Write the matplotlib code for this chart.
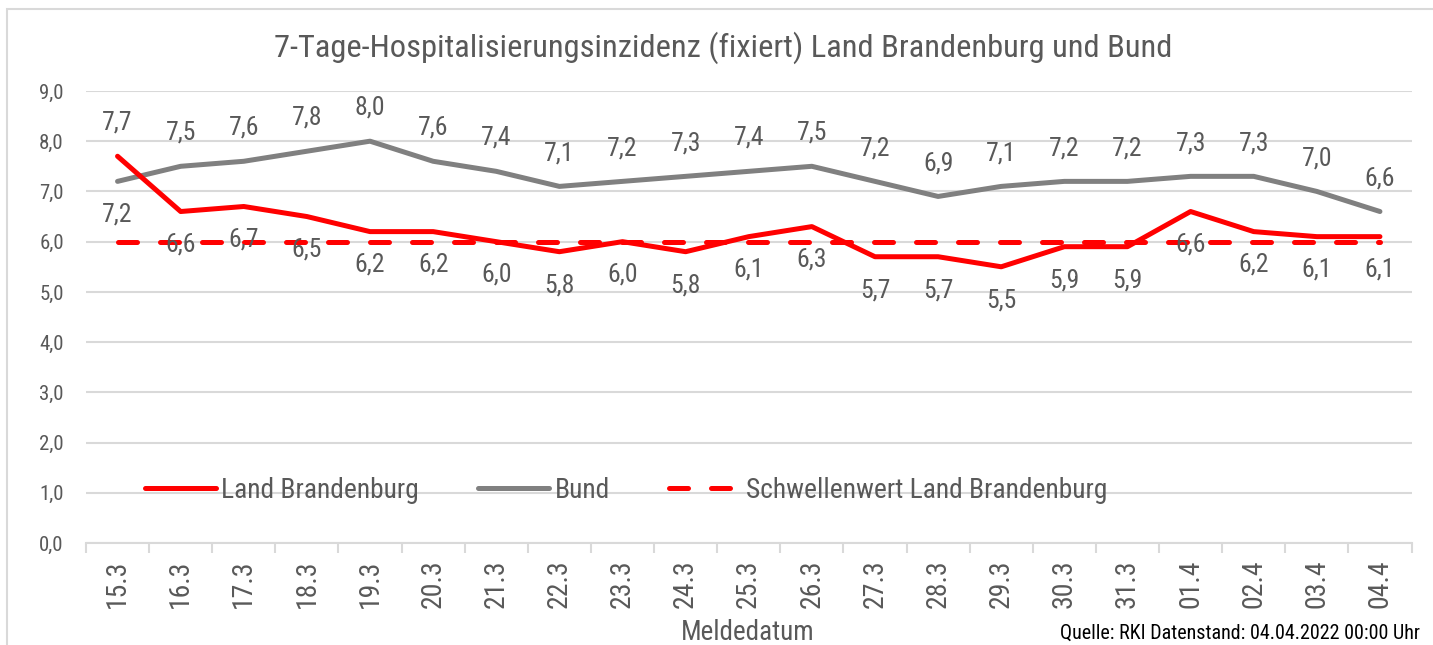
import matplotlib
matplotlib.use("Agg")
import matplotlib.pyplot as plt
from matplotlib.patches import Rectangle

plt.rcParams['font.family'] = ['Roboto Condensed', 'Liberation Sans', 'DejaVu Sans']

dates = ['15.3', '16.3', '17.3', '18.3', '19.3', '20.3', '21.3', '22.3', '23.3', '24.3',
         '25.3', '26.3', '27.3', '28.3', '29.3', '30.3', '31.3', '01.4', '02.4', '03.4', '04.4']
brandenburg = [7.7, 6.6, 6.7, 6.5, 6.2, 6.2, 6.0, 5.8, 6.0, 5.8, 6.1, 6.3, 5.7, 5.7, 5.5,
               5.9, 5.9, 6.6, 6.2, 6.1, 6.1]
bund = [7.2, 7.5, 7.6, 7.8, 8.0, 7.6, 7.4, 7.1, 7.2, 7.3, 7.4, 7.5, 7.2, 6.9, 7.1, 7.2,
        7.2, 7.3, 7.3, 7.0, 6.6]
schwelle = [6.0] * len(dates)

RED = '#FF0000'
GRAY = '#808080'
TXT = '#595959'
GRID = '#D9D9D9'

fig = plt.figure(figsize=(14.33, 6.45), dpi=100)
ax = fig.add_axes([0.060, 0.158, 0.925, 0.701])

x = range(len(dates))
ax.plot(x, brandenburg, color=RED, lw=3.6, solid_capstyle='round', label='Land Brandenburg', zorder=4)
ax.plot(x, bund, color=GRAY, lw=3.6, solid_capstyle='round', label='Bund', zorder=3)
ax.plot(x, schwelle, color=RED, lw=3.6, dashes=(3.8, 4.6), dash_capstyle='round',
        label='Schwellenwert Land Brandenburg', zorder=3)

# data labels: Bund above, Brandenburg below (swapped on the first day)
for i in x:
    sb = 1 if i == 0 else -1
    ax.annotate(f'{brandenburg[i]:.1f}'.replace('.', ','), (i, brandenburg[i]),
                xytext=(0, sb * 24), textcoords='offset points',
                ha='center', va='center', fontsize=18.5, color=TXT)
    ax.annotate(f'{bund[i]:.1f}'.replace('.', ','), (i, bund[i]),
                xytext=(0, -sb * 24), textcoords='offset points',
                ha='center', va='center', fontsize=18.5, color=TXT)

ax.set_xlim(-0.5, len(dates) - 0.5)
ax.set_ylim(0, 9)
ax.set_yticks(range(10))
ax.set_yticklabels([f'{v},0' for v in range(10)])
ax.grid(axis='y', color=GRID, lw=1.5)
ax.set_axisbelow(True)
ax.tick_params(axis='y', length=0, pad=16, labelsize=15, labelcolor=TXT)

ax.set_xticks(list(x))
ax.set_xticklabels(dates, rotation=90)
ax.set_xticks([i - 0.5 for i in range(len(dates) + 1)], minor=True)
ax.tick_params(axis='x', which='major', length=0, pad=12, labelsize=20, labelcolor=TXT)
ax.tick_params(axis='x', which='minor', length=7, width=1.5, color=GRID)

for s in ['top', 'right', 'left']:
    ax.spines[s].set_visible(False)
ax.spines['bottom'].set_color(GRID)
ax.spines['bottom'].set_linewidth(1.5)

ax.legend(loc='center left', bbox_to_anchor=(0.0445, 0.117), ncol=3, frameon=False,
          fontsize=19.8, labelcolor=TXT, handlelength=2.58, handletextpad=0.2,
          columnspacing=2.15, borderpad=0, borderaxespad=0)

fig.text(0.505, 0.926, '7-Tage-Hospitalisierungsinzidenz (fixiert) Land Brandenburg und Bund',
         ha='center', va='center', fontsize=23.4, color=TXT)
fig.text(0.522, 0.02, 'Meldedatum', ha='center', va='center', fontsize=19.5, color=TXT)
fig.text(0.991, 0.018, 'Quelle: RKI Datenstand: 04.04.2022 00:00 Uhr', ha='right',
         va='center', fontsize=14.5, color='black')

fig.patches.append(Rectangle((7 / 1433, -0.2), 1.2, 1.2 - 9 / 645, transform=fig.transFigure,
                             fill=False, ec=GRID, lw=1.5, clip_on=False))

fig.savefig('out.png', dpi=100)
